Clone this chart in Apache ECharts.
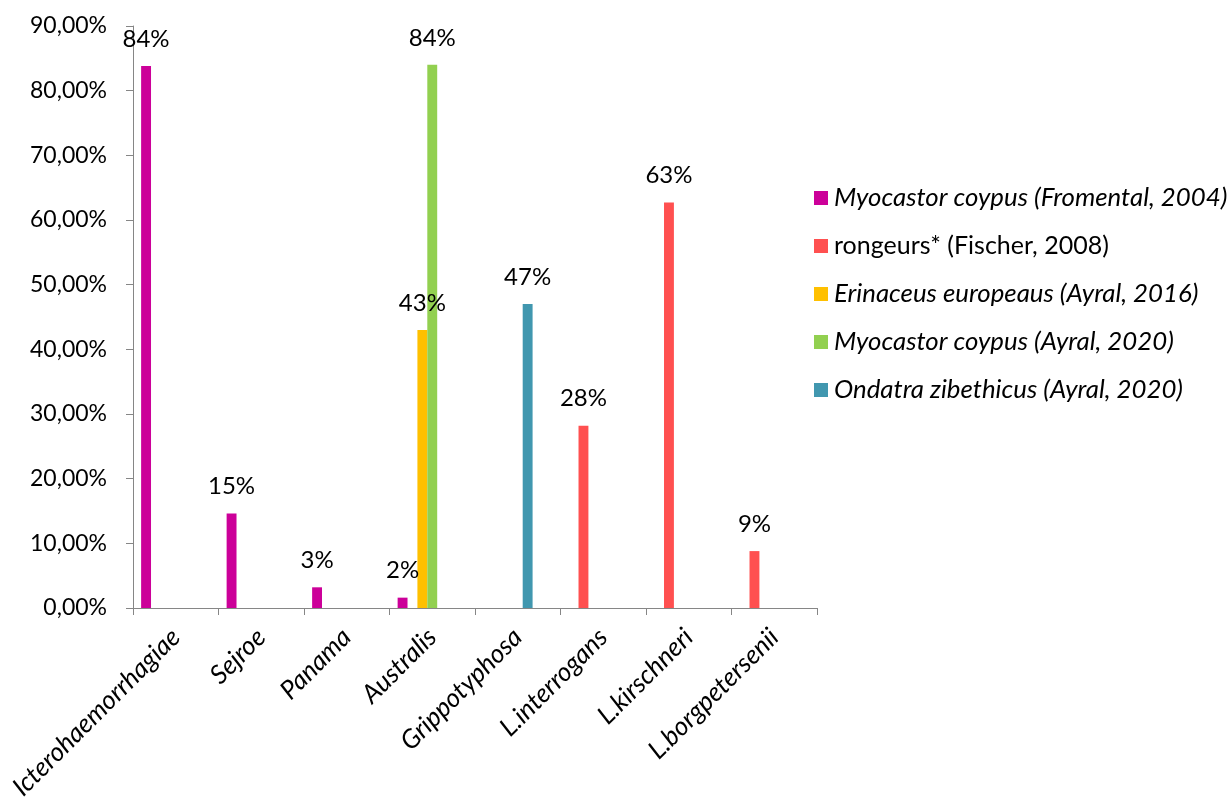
<!DOCTYPE html>
<html>
<head>
<meta charset="utf-8">
<script src="https://cdn.jsdelivr.net/npm/echarts@6/dist/echarts.min.js"></script>
<style>
html,body{margin:0;padding:0;background:#fff;}
#chart{width:1230px;height:803px;}
</style>
</head>
<body>
<div id="chart"></div>
<script>
const categories = ['Icterohaemorrhagiae','Sejroe','Panama','Australis','Grippotyphosa','L.interrogans','L.kirschneri','L.borgpetersenii'];
const seriesNames = [
  'Myocastor coypus (Fromental, 2004)',
  'rongeurs* (Fischer, 2008)',
  'Erinaceus europeaus (Ayral, 2016)',
  'Myocastor coypus (Ayral, 2020)',
  'Ondatra zibethicus (Ayral, 2020)'
];
const italicNames = [true, false, true, true, true];
const seriesColors = ['#CC0099','#FF5050','#FFC000','#92D050','#4197AF'];
const fromental2004 = [83.8, 14.6, 3.2, 1.6, null, null, null, null];
const fischer2008   = [null, null, null, null, null, 28.2, 62.7, 8.8];
const ayral2016Eri  = [null, null, null, 43.0, null, null, null, null];
const ayral2020Myo  = [null, null, null, 84.0, null, null, null, null];
const ayral2020Ond  = [null, null, null, null, 47.0, null, null, null];
const emptySeries   = [null, null, null, null, null, null, null, null];
const yMin = 0, yMax = 90, yStep = 10;

const seriesData = [fromental2004, fischer2008, ayral2016Eri, ayral2020Myo, ayral2020Ond];
const FONT = 'Lato';
const FS = 23;

const chart = echarts.init(document.getElementById('chart'), null, {renderer:'canvas'});

const series = seriesData.map((d, i) => ({
  name: seriesNames[i],
  type: 'bar',
  data: d,
  barGap: '0%',
  barCategoryGap: '19%',
  itemStyle: {color: seriesColors[i]},
  label: {
    show: true,
    position: 'top',
    distance: 15,
    color: '#000',
    fontFamily: FONT,
    fontSize: 24,
    formatter: p => (p.value == null ? '' : Math.round(p.value) + '%')
  }
}));
// two empty slots that the original clustered layout reserves
series.push({name: '_empty1', type: 'bar', data: emptySeries, barGap: '0%', barCategoryGap: '19%'});
series.push({name: '_empty2', type: 'bar', data: emptySeries, barGap: '0%', barCategoryGap: '19%'});

const option = {
  animation: false,
  backgroundColor: '#fff',
  textStyle: {fontFamily: FONT},
  grid: {left: 133, right: 413, top: 26, bottom: 195, containLabel: false},
  legend: {
    orient: 'vertical',
    left: 809,
    top: 179,
    icon: 'rect',
    itemWidth: 14,
    itemHeight: 14,
    itemGap: 20,
    data: seriesNames.map((n, i) => ({name: n, textStyle: {fontStyle: italicNames[i] ? 'italic' : 'normal', fontSize: italicNames[i] ? 25.8 : 25}})),
    textStyle: {color: '#000', fontFamily: FONT, fontSize: 25, lineHeight: 28, padding: [0,0,0,1]},
    selectedMode: false
  },
  xAxis: {
    type: 'category',
    data: categories,
    boundaryGap: true,
    axisLine: {show: true, lineStyle: {color: '#868686', width: 1}},
    axisTick: {show: true, length: 7, interval: 0, lineStyle: {color: '#868686'}},
    axisLabel: {
      interval: 0,
      rotate: 45,
      margin: 25,
      color: '#000',
      fontFamily: FONT,
      fontSize: 26,
      fontStyle: 'italic'
    },
    splitLine: {show: false}
  },
  yAxis: {
    type: 'value',
    min: yMin,
    max: yMax,
    interval: yStep,
    axisLine: {show: true, lineStyle: {color: '#868686', width: 1}},
    axisTick: {show: true, length: 7, inside: false, lineStyle: {color: '#868686'}},
    axisLabel: {
      margin: 26,
      color: '#000',
      fontFamily: FONT,
      fontSize: FS,
      formatter: v => v.toFixed(2).replace('.', ',') + '%'
    },
    splitLine: {show: false}
  },
  series: series
};
chart.setOption(option);
</script>
</body>
</html>
